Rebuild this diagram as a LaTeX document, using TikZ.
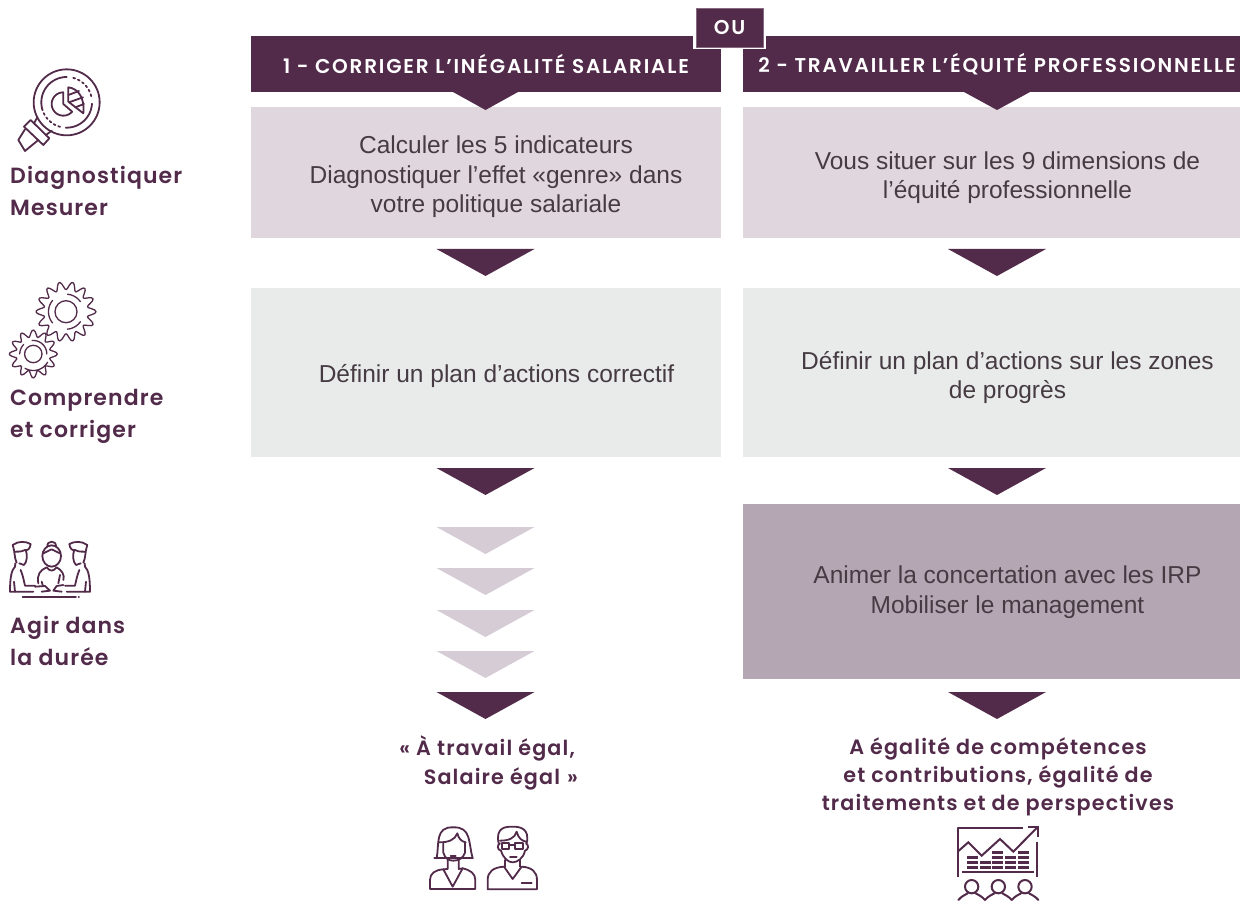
\documentclass[tikz,border=0pt]{standalone}
\usepackage{fontspec}
\setmainfont{Liberation Sans}
\newfontfamily\labfont[LetterSpace=5]{Poppins SemiBold}
\newfontfamily\resfont[LetterSpace=5.5]{Poppins SemiBold}
\newfontfamily\headfont[LetterSpace=9]{Poppins SemiBold}
\definecolor{plum}{HTML}{522A4A}
\definecolor{pale}{HTML}{E0D7DE}
\definecolor{greybox}{HTML}{E9EBEA}
\definecolor{midbox}{HTML}{B5A6B4}
\definecolor{paletri}{HTML}{D6CCD6}
\definecolor{bodytext}{HTML}{463B43}
\tikzset{
  x=1pt,y=-1pt,
  box/.style={inner sep=0,minimum width=#1},
  boxtext/.style={inner sep=0,align=center,text=bodytext,font=\fontsize{24.5}{29.5}\selectfont},
  head/.style={fill=plum,inner sep=0,minimum height=56,text=white,font=\headfont\fontsize{20}{24}\selectfont},
  sidelabel/.style={anchor=west,inner sep=0,align=left,text=plum,font=\labfont\fontsize{22}{32}\selectfont},
  result/.style={inner sep=0,text=plum,font=\resfont\fontsize{20.7}{28}\selectfont},
  icon/.style={draw=plum,line width=1.8pt,line cap=round,line join=round,fill=none},
  thin icon/.style={draw=plum,line width=1.3pt,line cap=round,line join=round,fill=none},
}
\newcommand{\tridown}[4]{\fill[#4] (#1-49,#2) -- (#1+49,#2) -- (#1,#3) -- cycle;}
% arc given by screen angles: centre x, centre y, radius, from, to
\newcommand{\sarc}[6][icon]{\draw[#1] plot[smooth,samples=30,domain=#5:#6] ({#2+#4*cos(\x)},{#3-#4*sin(\x)});}
\begin{document}
\begin{tikzpicture}
\useasboundingbox (0,0) rectangle (1240,901);
\clip (0,0) rectangle (1240,901);
% headers
\node[head,minimum width=470] (h1) at (486,64) {1 - CORRIGER L’INÉGALITÉ SALARIALE};
\node[head,minimum width=497] (h2) at (991.5,64) {\hspace*{11pt}2 - TRAVAILLER L’ÉQUITÉ PROFESSIONNELLE};
% OU
\fill[white] (693,0) rectangle (766,49);
\node[fill=plum,draw=plum!70,line width=.5pt,inner sep=0,minimum width=67,minimum height=39,text=white,font=\headfont\fontsize{20}{24}\selectfont] (ou) at (729.5,27.5) {OU};
% boxes
\node[box=470,fill=pale,minimum height=131] (a1) at (486,172.5) {};
\node[box=497,fill=pale,minimum height=131] (b1) at (991.5,172.5) {};
\node[box=470,fill=greybox,minimum height=169] (a2) at (486,372.5) {};
\node[box=497,fill=greybox,minimum height=169] (b2) at (991.5,372.5) {};
\node[box=497,fill=midbox,minimum height=175] (b3) at (991.5,591.5) {};
\node[boxtext] (ta1) at (496,177) {Calculer les 5 indicateurs\\Diagnostiquer l’effet «genre» dans\\votre politique salariale};
\node[boxtext] (tb1) at (1007.5,177.5) {Vous situer sur les 9 dimensions de\\l’équité professionnelle};
\node[boxtext] (ta2) at (496.5,376.5) {Définir un plan d’actions correctif};
\node[boxtext] (tb2) at (1007.5,377.5) {Définir un plan d’actions sur les zones\\de progrès};
\node[boxtext] (tb3) at (1007.5,592) {Animer la concertation avec les IRP\\Mobiliser le management};
% header tips
\fill[plum] (453,92) -- (518,92) -- (485.5,110) -- cycle;
\fill[plum] (964,92) -- (1030,92) -- (997,110) -- cycle;
% arrows left
\tridown{485.5}{249}{276}{plum}
\tridown{485.5}{468}{495}{plum}
\tridown{485.5}{527}{554}{paletri}
\tridown{485.5}{568}{595}{paletri}
\tridown{485.5}{610}{637}{paletri}
\tridown{485.5}{651}{678}{paletri}
\tridown{485.5}{692}{719}{plum}
% arrows right
\tridown{997}{249}{276}{plum}
\tridown{997}{468}{495}{plum}
\tridown{997}{692}{719}{plum}
% side labels
\node[sidelabel] (l1) at (10,190.5) {Diagnostiquer\\Mesurer};
\node[sidelabel] (l2) at (10,416.5) {Comprendre\\et corriger};
\node[sidelabel] (l3) at (10,640.5) {Agir dans\\la durée};
% results
\node[result,align=right,anchor=north east,font=\resfont\fontsize{20.7}{29.5}\selectfont] (r1) at (578,735) {« À travail égal,\hspace*{3pt}\\Salaire égal\hspace{7pt}»};
\node[result,align=center] (r2) at (998,776.5) {A égalité de compétences\\et contributions, égalité de\\traitements et de perspectives};
% magnifier
\begin{scope}[shift={(0,60)},scale=1/3]
\draw[icon] (200,127) circle (99);
\sarc{200}{127}{76}{195}{90}
\sarc[icon,dash pattern=on 2pt off 3pt]{200}{127}{76}{75}{12}
\sarc{200}{127}{76}{-3}{-92}
\sarc[icon,dash pattern=on 2pt off 3pt]{200}{127}{76}{-105}{-165}
\draw[icon] plot[smooth,samples=30,domain=90:319] ({190+35*cos(\x)},{132-35*sin(\x)}) -- (190,132) -- cycle;
\draw[icon] (205,125) -- (205,82) .. controls (235,85) and (255,115) .. (250,160) -- cycle;
\draw[icon] (205,105) -- (237,93) (207,127) -- (249,112) (226,142) -- (252,132);
\draw[icon] (112,172) -- (102,190) (155,212) -- (138,225);
\draw[icon] (92,180) -- (148,235) -- (130,255) -- (72,200) -- cycle;
\draw[icon] (75,208) -- (55,240) -- (75,273) -- (115,240);
\end{scope}
% gears
\begin{scope}[shift={(66,311.7)}]
\draw[thin icon] plot[smooth cycle,samples=113,domain=0:360-3.2] ({(26+4*cos(14*\x))*cos(\x)},{(26+4*cos(14*\x))*sin(\x)});
\draw[thin icon] (0,0) circle (11);
\sarc[thin icon]{0}{0}{17.5}{140}{220}
\sarc[thin icon]{0}{0}{17.5}{85}{35}
\sarc[thin icon]{0}{0}{17.5}{-85}{-35}
\end{scope}
\begin{scope}[shift={(33.3,354)}]
\draw[thin icon] plot[smooth cycle,samples=97,domain=0:360-3.75] ({(20.5+3.5*cos(12*\x))*cos(\x)},{(20.5+3.5*cos(12*\x))*sin(\x)});
\draw[thin icon] (0,0) circle (8.7);
\sarc[thin icon]{0}{0}{13.5}{180}{135}
\sarc[thin icon]{0}{0}{13.5}{95}{0}
\sarc[thin icon]{0}{0}{16.5}{-120}{-30}
\end{scope}
% three people
\begin{scope}[shift={(0,520)},scale=1/3]
\draw[icon] (50,128) .. controls (42,110) and (46,100) .. (38,75) .. controls (55,62) and (78,64) .. (92,72) .. controls (90,85) and (85,92) .. (75,90) .. controls (62,96) and (55,95) .. (46,95);
\draw[icon] (78,92) .. controls (82,105) and (82,125) .. (72,135) -- (58,130);
\draw[icon] (46,130) -- (45,140) .. controls (35,150) and (30,170) .. (30,215) -- (100,215);
\draw[icon] (62,150) .. controls (70,170) and (72,185) .. (75,197) -- (105,197);
\draw[icon] (42,185) -- (45,215);
\draw[icon] (250,128) .. controls (258,110) and (254,100) .. (262,75) .. controls (245,62) and (222,64) .. (208,72) .. controls (210,85) and (215,92) .. (225,90) .. controls (238,96) and (245,95) .. (254,95);
\draw[icon] (222,92) .. controls (218,105) and (218,125) .. (228,135) -- (242,130);
\draw[icon] (254,130) -- (255,140) .. controls (265,150) and (270,170) .. (270,215) -- (200,215);
\draw[icon] (238,150) .. controls (230,170) and (228,185) .. (225,197) -- (195,197);
\draw[icon] (258,185) -- (255,215);
\draw[icon] (155,108) ellipse (28 and 32);
\draw[icon] (142,80) .. controls (140,60) and (170,60) .. (168,80);
\draw[icon] (130,100) .. controls (140,95) and (150,90) .. (155,88) .. controls (162,92) and (172,96) .. (180,100);
\draw[icon] (115,190) .. controls (110,165) and (120,150) .. (140,142) .. controls (150,155) and (160,155) .. (170,142) .. controls (185,150) and (195,165) .. (190,180);
\draw[icon] (105,200) -- (135,198) -- (150,212) -- (125,215);
\draw[icon] (190,195) -- (170,198) -- (160,212) -- (185,215);
\draw[icon] (125,185) -- (128,195);
\draw[icon] (180,165) -- (175,190);
\draw[icon] (68,231) -- (228,231) (236,231) -- (237,231);
\end{scope}
% woman and man
\begin{scope}[shift={(400,810)},scale=1/3]
\draw[icon] (103,145) -- (218,145);
\draw[icon] (110,145) .. controls (118,100) and (105,50) .. (160,52) .. controls (215,50) and (205,100) .. (218,145);
\draw[icon] (118,97) .. controls (145,97) and (165,90) .. (172,70) .. controls (175,85) and (185,95) .. (197,97);
\draw[icon] (130,100) -- (130,128) .. controls (135,145) and (145,152) .. (160,152) .. controls (175,152) and (190,145) .. (195,128) -- (195,100);
\draw[icon] (152,138) -- (167,138);
\draw[icon] (143,150) -- (143,177) -- (130,178) (176,150) -- (176,177) -- (188,175);
\draw[icon] (130,178) .. controls (105,180) and (90,190) .. (90,210) -- (90,237) -- (226,237) -- (226,210) .. controls (226,190) and (210,180) .. (188,175);
\draw[icon] (130,178) -- (158,230) -- (188,175);
\draw[icon] (296,100) .. controls (285,50) and (320,50) .. (338,50) .. controls (360,50) and (390,55) .. (380,100);
\draw[icon] (300,92) .. controls (325,92) and (345,85) .. (350,65) .. controls (355,85) and (365,92) .. (378,95);
\draw[icon] (300,100) .. controls (290,105) and (292,120) .. (303,122) .. controls (310,145) and (325,157) .. (338,157) .. controls (352,157) and (370,145) .. (375,122) .. controls (385,120) and (388,105) .. (378,100);
\draw[icon] (307,100) rectangle (328,117) (345,100) rectangle (368,117) (328,105) -- (345,105);
\draw[icon] (330,142) -- (350,142);
\draw[icon] (316,150) -- (316,170) (360,150) -- (360,170);
\draw[icon] (312,170) .. controls (280,172) and (263,185) .. (263,210) -- (263,238) -- (411,238) -- (411,210) .. controls (411,185) and (395,172) .. (365,170);
\draw[icon] (312,170) -- (338,207) -- (365,170);
\draw[icon] (365,220) -- (395,220);
\end{scope}
% chart
\begin{scope}[shift={(930,810)},scale=1/3]
\draw[icon,line width=2pt,line cap=butt] (83,125) -- (83,55) -- (280,55);
\draw[icon,line width=2pt,line cap=butt,line join=miter] (83,125) -- (115,97) -- (155,137) -- (210,87) -- (250,125) -- (322,52);
\draw[icon,line width=2pt,line cap=butt,line join=miter] (295,52) -- (325,52) -- (325,80);
\draw[icon,line width=2pt,line cap=butt] (322,95) -- (322,200) (83,125) -- (83,200) (97,187) -- (312,187);
\foreach \col/\a/\b/\rows in {1/110/145/{142,157,172},2/150/183/{157,172},3/187/218/{127,142,157,172},4/225/258/{142,157,172},5/265/298/{127,142,157,172}}{
  \foreach \r in \rows { \fill[plum] (\a,\r-4.5) rectangle (\b,\r+4.5); }
}
\foreach \c in {125,205,285}{
  \draw[icon,line width=2pt] (\c,230) circle (20);
  \draw[icon,line width=2pt] (\c-40,270) .. controls (\c-30,258) and (\c-20,255) .. (\c-12,250) (\c+40,270) .. controls (\c+30,258) and (\c+20,255) .. (\c+12,250);
}
\end{scope}
\end{tikzpicture}
\end{document}
